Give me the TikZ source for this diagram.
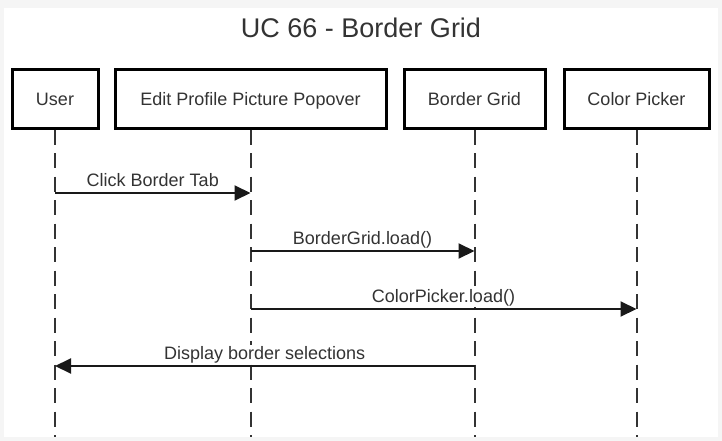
\documentclass[tikz,border=0pt]{standalone}
\usepackage{fontspec}
\setmainfont{Liberation Sans}
\usetikzlibrary{arrows.meta}
\definecolor{bggray}{HTML}{F5F5F5}
\definecolor{txt}{HTML}{333333}
\definecolor{lline}{HTML}{333333}
\tikzset{
  actor/.style={draw=black, line width=3pt, fill=white, minimum height=58pt, inner sep=0pt, text=txt, font=\fontsize{18}{20}\selectfont},
  lifeline/.style={draw=lline, line width=2pt, dash pattern=on 15pt off 8.5pt},
  msg/.style={draw=black!90, line width=2pt, -{Triangle[length=16pt,width=15pt]}},
  actorlabel/.style={anchor=base, text=txt, font=\fontsize{18}{20}\selectfont, inner sep=0pt},
  msglabel/.style={anchor=base, text=txt, font=\fontsize{18}{20}\selectfont, inner xsep=1pt, inner ysep=1pt, fill=white},
}
\begin{document}
\begin{tikzpicture}[x=1pt,y=-1pt]
\fill[bggray] (0,0) rectangle (722,441);
\fill[white] (4,8) rectangle (718,437);
\useasboundingbox (0,0) rectangle (722,441);

\node[anchor=base, text=txt, font=\fontsize{27}{30}\selectfont, inner sep=0pt] (title) at (361,38) {UC 66 - Border Grid};

\node[actor, minimum width=86pt] (user) at (55,99) {};
\node[actor, minimum width=271pt] (edit) at (250.5,99) {};
\node[actor, minimum width=141pt] (grid) at (474.5,99) {};
\node[actor, minimum width=145pt] (picker) at (636.5,99) {};

\node[actorlabel] (userl) at (55,106) {User};
\node[actorlabel] (editl) at (250.5,106) {Edit Profile Picture Popover};
\node[actorlabel] (gridl) at (474.5,106) {Border Grid};
\node[actorlabel] (pickerl) at (636.5,106) {Color Picker};

\coordinate (userend) at (55,437);
\coordinate (editend) at (250.5,437);
\coordinate (gridend) at (474.5,437);
\coordinate (pickerend) at (636.5,437);

\draw[lifeline] (user.south) -- (userend);
\draw[lifeline] (edit.south) -- (editend);
\draw[lifeline] (grid.south) -- (gridend);
\draw[lifeline] (picker.south) -- (pickerend);

\coordinate (u1) at (55,193);
\coordinate (e1) at (250.5,193);
\coordinate (e2) at (250.5,251);
\coordinate (g2) at (474.5,251);
\coordinate (e3) at (250.5,309);
\coordinate (p3) at (636.5,309);
\coordinate (g4) at (474.5,366);
\coordinate (u4) at (55,366);

\draw[msg] (u1) -- (e1);
\draw[msg] (e2) -- (g2);
\draw[msg] (e3) -- (p3);
\draw[msg] (g4) -- (u4);

\node[msglabel] (m1) at (152.75,186) {Click Border Tab};
\node[msglabel] (m2) at (362.5,244) {BorderGrid.load()};
\node[msglabel] (m3) at (443.5,302) {ColorPicker.load()};
\node[msglabel] (m4) at (264.75,359) {Display border selections};
\end{tikzpicture}
\end{document}
